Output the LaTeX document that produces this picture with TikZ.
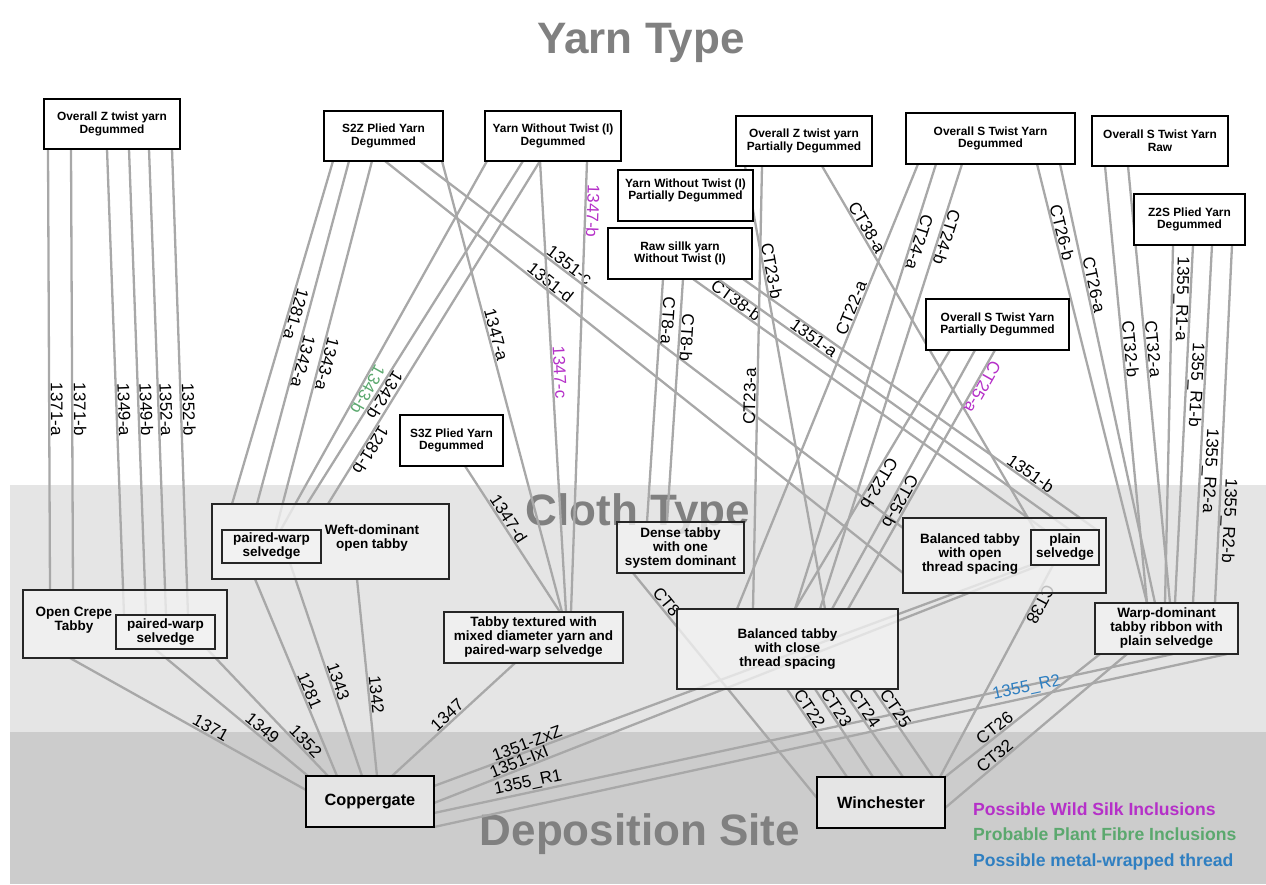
\documentclass[tikz,border=0pt]{standalone}
\usepackage{tikz}
\usepackage{fontspec}
\setmainfont{Liberation Sans}

\pgfdeclarelayer{bands}
\pgfdeclarelayer{threads}
\pgfsetlayers{bands,threads,main}

\definecolor{edgegray}{HTML}{A8A8A8}
\definecolor{titlegray}{HTML}{808080}
\definecolor{clothband}{HTML}{E5E5E5}
\definecolor{siteband}{HTML}{CCCCCC}
\definecolor{wildsilk}{HTML}{B530C8}
\definecolor{plantfibre}{HTML}{5BA86E}
\definecolor{metalthread}{HTML}{2F7FC1}

\newcommand{\yarnfnt}{\fontsize{11.9}{12.7}\selectfont\bfseries}
\newcommand{\clothfnt}{\fontsize{13.5}{14}\selectfont\bfseries}
\newcommand{\sitefnt}{\fontsize{16.3}{18}\selectfont\bfseries}
\newcommand{\lblfnt}{\fontsize{17}{17}\selectfont}
\newcommand{\titlefnt}{\fontsize{44}{48}\selectfont\bfseries}
\newcommand{\keyfnt}{\fontsize{17.6}{20}\selectfont\bfseries}

\begin{document}
\begin{tikzpicture}[x=1pt, y=-1pt,
box/.style 2 args={minimum width=#1pt, minimum height=#2pt},
yarn/.style={draw=black, line width=1.2pt, fill=white, align=center, inner sep=0pt, outer sep=0pt, font=\yarnfnt},
cloth/.style={draw=black!85, line width=1.2pt, fill=black!5, fill opacity=0.78, text opacity=1, align=center, inner sep=0pt, outer sep=0pt, font=\clothfnt},
selv/.style={cloth, fill opacity=1},
clothtxt/.style={align=center, inner sep=0pt, font=\clothfnt},
site/.style={draw=black, line width=1.2pt, fill=black!10, inner sep=0pt, outer sep=0pt, font=\sitefnt},
thread/.style={draw=edgegray, line width=2.3pt},
lbl/.style={font=\lblfnt, inner sep=0.5pt, sloped, allow upside down, above},
heading/.style={font=\titlefnt, text=titlegray, anchor=base},
key/.style={font=\keyfnt, anchor=base west, inner sep=0pt},
]
\useasboundingbox (0,0) rectangle (1266,884);

% bands and headings
\begin{pgfonlayer}{bands}
\fill[clothband] (10,485) rectangle (1266,732);
\fill[siteband] (10,732) rectangle (1266,884);
\node[heading] (yarnhead) at (641,53) {Yarn Type};
\node[heading] (clothhead) at (638,525) {Cloth Type};
\node[heading] (sitehead) at (640,845) {Deposition Site};
\end{pgfonlayer}

% yarn types
\node[yarn, box={136}{50}] (ozd) at (112,124) {Overall Z twist yarn\\Degummed};
\node[yarn, box={119}{50}] (s2z) at (383.5,136) {S2Z Plied Yarn\\Degummed};
\node[yarn, box={136}{50}] (ywd) at (553,136) {Yarn Without Twist (I)\\Degummed};
\node[yarn, box={135}{51}] (ywpd) at (685.5,195.5) {Yarn Without Twist (I)\\Partially Degummed\\~};
\node[yarn, box={144}{51}] (rsy) at (680,253.5) {Raw sillk yarn\\Without Twist (I)};
\node[yarn, box={136}{50}] (ozpd) at (804,141) {Overall Z twist yarn\\Partially Degummed};
\node[yarn, box={169}{51}] (osd) at (990.5,138.5) {Overall S Twist Yarn\\Degummed};
\node[yarn, box={136}{50}] (osr) at (1160,141) {Overall S Twist Yarn\\Raw};
\node[yarn, box={111}{51}] (z2s) at (1189.5,219.5) {Z2S Plied Yarn\\Degummed};
\node[yarn, box={143}{51}] (ospd) at (997.5,324.5) {Overall S Twist Yarn\\Partially Degummed};
\node[yarn, box={103}{51}] (s3z) at (451.5,440.5) {S3Z Plied Yarn\\Degummed};

% cloth types
\node[cloth, box={204}{68}] (oct) at (125,624) {};
\node[clothtxt] (octtxt) at (74,620) {Open Crepe\\Tabby};
\node[selv, box={99}{34}] (octpw) at (165.5,632) {paired-warp\\selvedge};
\node[cloth, box={237}{75}] (wdot) at (330.5,541.5) {};
\node[selv, box={99}{33}] (wdotpw) at (271.5,546.5) {paired-warp\\selvedge};
\node[clothtxt] (wdottxt) at (372,538) {Weft-dominant\\open tabby};
\node[cloth, box={179}{51}] (ttx) at (533.5,637.5) {Tabby textured with\\mixed diameter yarn and\\paired-warp selvedge};
\node[cloth, box={127}{51}] (dtd) at (680.5,547.5) {Dense tabby\\with one\\system dominant};
\node[cloth, box={221}{80}] (btc) at (787.5,649) {Balanced tabby\\with close\\thread spacing};
\node[cloth, box={203}{75}] (bto) at (1004.5,555.5) {};
\node[clothtxt] (btotxt) at (970,554) {Balanced tabby\\with open\\thread spacing};
\node[selv, box={68}{35}] (btops) at (1065,547.5) {plain\\selvedge};
\node[cloth, box={143}{51}] (wdr) at (1166.5,628.5) {Warp-dominant\\tabby ribbon with\\plain selvedge};

% deposition sites
\node[site, box={128}{51}] (cop) at (370,801.5) {Coppergate};
\node[site, box={128}{51}] (win) at (881,802.5) {Winchester};

% key
\node[key, text=wildsilk] (keysilk) at (973,815) {Possible Wild Silk Inclusions};
\node[key, text=plantfibre] (keyplant) at (973,840) {Probable Plant Fibre Inclusions};
\node[key, text=metalthread] (keymetal) at (973,866) {Possible metal-wrapped thread};

\begin{pgfonlayer}{threads}
% yarn -> cloth
\draw[thread] ([xshift=4pt]ozd.south west) -- node[lbl,pos=.59]{1371-a} ([xshift=27pt]oct.north west);
\draw[thread] ([xshift=27pt]ozd.south west) -- node[lbl,pos=.59]{1371-b} ([xshift=50pt]oct.north west);
\draw[thread] ([xshift=63pt]ozd.south west) -- node[lbl,pos=.56]{1349-a} ([xshift=8pt]octpw.north west);
\draw[thread] ([xshift=85pt]ozd.south west) -- node[lbl,pos=.56]{1349-b} ([xshift=30pt]octpw.north west);
\draw[thread] ([xshift=105pt]ozd.south west) -- node[lbl,pos=.56]{1352-a} ([xshift=50pt]octpw.north west);
\draw[thread] ([xshift=128pt]ozd.south west) -- node[lbl,pos=.56]{1352-b} ([xshift=72pt]octpw.north west);

\draw[thread] ([xshift=9pt]s2z.south west) -- node[lbl,pos=.44]{1281-a} ([xshift=20pt]wdot.north west);
\draw[thread] ([xshift=25pt]s2z.south west) -- node[lbl,pos=.58]{1342-a} ([xshift=45pt]wdot.north west);
\draw[thread] ([xshift=48pt]s2z.south west) -- node[lbl,pos=.545]{1343-a} (wdotpw);
\draw[thread] ([xshift=61pt]s2z.south west) -- node[lbl,pos=.31]{1351-d} ([yshift=20pt]bto.south west);
\draw[thread] ([xshift=96pt]s2z.south west) -- node[lbl,pos=.3]{1351-c} ([yshift=-10pt]bto.north west);
\draw[thread] ([xshift=118pt]s2z.south west) -- node[lbl,pos=.39]{1347-a} ([xshift=118pt]ttx.north west);

\draw[thread] ([xshift=2pt]ywd.south west) -- node[lbl,pos=.61,text=plantfibre]{1343-b} (wdotpw);
\draw[thread] ([xshift=38pt]ywd.south west) -- node[lbl,pos=.67]{1342-b} ([xshift=95pt]wdot.north west);
\draw[thread] ([xshift=55pt]ywd.south west) -- node[lbl,pos=.83]{1281-b} ([xshift=116pt]wdot.north west);
\draw[thread] ([xshift=55pt]ywd.south west) -- node[lbl,pos=.47,text=wildsilk]{1347-c} ([xshift=122pt]ttx.north west);
\draw[thread] ([xshift=102pt]ywd.south west) -- node[lbl,pos=.11,text=wildsilk]{1347-b} ([xshift=127pt]ttx.north west);

\draw[thread] ([xshift=65pt]s3z.south west) -- node[lbl,pos=.39]{1347-d} ([xshift=116pt]ttx.north west);

\draw[thread] ([xshift=55pt]rsy.south west) -- node[lbl,pos=.17]{CT8-a} ([xshift=30pt]dtd.north west);
\draw[thread] ([xshift=75pt]rsy.south west) -- node[lbl,pos=.24]{CT8-b} ([xshift=50pt]dtd.north west);
\draw[thread] ([xshift=85pt]rsy.south west) -- node[lbl,pos=.11]{CT38-b} ([xshift=14pt]btops.north west);
\draw[thread] ([xshift=110pt]rsy.south west) -- node[lbl,pos=.26]{1351-a} ([xshift=39pt]btops.north west);
\draw[thread] ([xshift=135pt]rsy.south west) -- node[lbl,pos=.8]{1351-b} ([xshift=66pt]btops.north west);

\draw[thread] ([xshift=76pt]btc.north west) -- node[lbl,pos=.48]{CT23-a} ([xshift=26pt]ozpd.south west);
\draw[thread] ([xshift=9pt]ozpd.south west) -- node[lbl,pos=.24]{CT23-b} ([xshift=148pt]btc.north west);
\draw[thread] ([xshift=86pt]ozpd.south west) -- node[lbl,pos=.18]{CT38-a} ([xshift=4pt]btops.north west);

\draw[thread] ([xshift=60pt]btc.north west) -- node[lbl,pos=.67]{CT22-a} ([xshift=12pt]osd.south west);
\draw[thread] ([xshift=30pt]osd.south west) -- node[lbl,pos=.17]{CT24-a} ([xshift=118pt]btc.north west);
\draw[thread] ([xshift=56pt]osd.south west) -- node[lbl,pos=.16]{CT24-b} ([xshift=143pt]btc.north west);
\draw[thread] ([xshift=131pt]osd.south west) -- node[lbl,pos=.16]{CT26-b} ([xshift=52pt]wdr.north west);
\draw[thread] ([xshift=154pt]osd.south west) -- node[lbl,pos=.28]{CT26-a} ([xshift=60pt]wdr.north west);

\draw[thread] ([xshift=13pt]osr.south west) -- node[lbl,pos=.42]{CT32-b} ([xshift=52pt]wdr.north west);
\draw[thread] ([xshift=36pt]osr.south west) -- node[lbl,pos=.42]{CT32-a} ([xshift=75pt]wdr.north west);

\draw[thread] ([xshift=39pt]z2s.south west) -- node[lbl,pos=.15]{1355\_R1-a} ([xshift=70pt]wdr.north west);
\draw[thread] ([xshift=59pt]z2s.south west) -- node[lbl,pos=.39]{1355\_R1-b} ([xshift=80pt]wdr.north west);
\draw[thread] ([xshift=78pt]z2s.south west) -- node[lbl,pos=.63]{1355\_R2-a} ([xshift=98pt]wdr.north west);
\draw[thread] ([xshift=98pt]z2s.south west) -- node[lbl,pos=.77]{1355\_R2-b} ([xshift=120pt]wdr.north west);

\draw[thread] ([xshift=24pt]ospd.south west) -- node[lbl,pos=.5]{CT22-b} ([xshift=118pt]btc.north west);
\draw[thread] ([xshift=49pt]ospd.south west) -- node[lbl,pos=.57]{CT25-b} ([xshift=155pt]btc.north west);
\draw[thread] ([xshift=69pt]ospd.south west) -- node[lbl,pos=.13,text=wildsilk]{CT25-a} ([xshift=171pt]btc.north west);

% cloth -> site
\draw[thread] ([xshift=47pt]oct.south west) -- node[lbl,pos=.58]{1371} ([yshift=37pt]cop.south west);
\draw[thread] ([xshift=39pt]octpw.south west) -- node[lbl,pos=.67]{1349} ([xshift=2pt]cop.north west);
\draw[thread] ([xshift=91pt]octpw.south west) -- node[lbl,pos=.77]{1352} ([xshift=22pt]cop.north west);
\draw[thread] ([xshift=43pt]wdot.south west) -- node[lbl,pos=.58]{1281} ([xshift=31pt]cop.north west);
\draw[thread] ([xshift=68pt]wdotpw.south west) -- node[lbl,pos=.57]{1343} ([xshift=56pt]cop.north west);
\draw[thread] ([xshift=145pt]wdot.south west) -- node[lbl,pos=.59]{1342} ([xshift=71pt]cop.north west);
\draw[thread] ([xshift=86pt]cop.north west) -- node[lbl,pos=.49]{1347} ([xshift=71pt]ttx.south west);
\draw[thread] ([yshift=-10pt]cop.north east) -- node[lbl,pos=.16]{1351-ZxZ} (btops.south west);
\draw[thread] ([yshift=-27pt]cop.north east) -- node[lbl,pos=.145]{1351-IxI} ([xshift=9pt]btops.south west);
\draw[thread] ([yshift=14pt]cop.south east) -- node[lbl,pos=.13]{1355\_R1} ([xshift=78pt]wdr.south west);
\draw[thread] (cop.south east) -- node[lbl,pos=.75,text=metalthread]{1355\_R2} ([xshift=132pt]wdr.south west);

\draw[thread] ([xshift=16pt]dtd.south west) -- node[lbl,pos=.15]{CT8} ([yshift=30pt]win.south west);
\draw[thread] ([xshift=110pt]btc.south west) -- node[lbl,pos=.27]{CT22} ([xshift=30pt]win.north west);
\draw[thread] ([xshift=138pt]btc.south west) -- node[lbl,pos=.26]{CT23} ([xshift=56pt]win.north west);
\draw[thread] ([xshift=165pt]btc.south west) -- node[lbl,pos=.27]{CT24} ([xshift=86pt]win.north west);
\draw[thread] ([xshift=196pt]btc.south west) -- node[lbl,pos=.27]{CT25} ([xshift=116pt]win.north west);
\draw[thread] ([xshift=22pt]btops.south west) -- node[lbl,pos=.17]{CT38} ([xshift=-5pt]win.north east);
\draw[thread] (win.north east) -- node[lbl,pos=.35]{CT26} ([xshift=5pt]wdr.south west);
\draw[thread] ([yshift=-31pt]win.north east) -- node[lbl,pos=.3]{CT32} ([xshift=32pt]wdr.south west);
\end{pgfonlayer}
\end{tikzpicture}
\end{document}
